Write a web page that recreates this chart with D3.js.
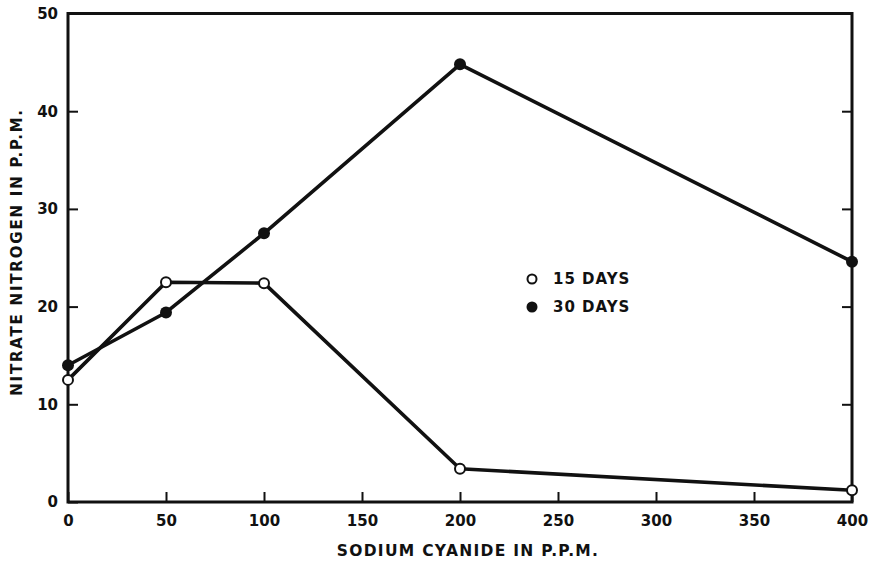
<!DOCTYPE html>
<html><head><meta charset="utf-8">
<script src="https://cdn.jsdelivr.net/npm/d3@7"></script>
<style>body{margin:0;background:#fff}svg{display:block}text{font-family:"DejaVu Sans",sans-serif;font-weight:bold;fill:#111}</style>
</head><body>
<script>
const doses = [0, 50, 100, 200, 400];
const days15 = [12.5, 22.5, 22.4, 3.4, 1.2];
const days30 = [14.0, 19.4, 27.5, 44.8, 24.6];
const xTicks = [0, 50, 100, 150, 200, 250, 300, 350, 400];
const yTicks = [0, 10, 20, 30, 40, 50];
const seriesNames = ["15 DAYS", "30 DAYS"];

const W = 873, H = 561;
const svg = d3.select("body").append("svg").attr("width", W).attr("height", H);
const x = d3.scaleLinear().domain([0, 400]).range([68, 852]);
const y = d3.scaleLinear().domain([0, 50]).range([502, 13.5]);
const ink = "#111";

// frame
svg.append("rect").attr("x", x(0)).attr("y", y(50)).attr("width", x(400) - x(0)).attr("height", y(0) - y(50))
  .attr("fill", "none").attr("stroke", ink).attr("stroke-width", 3);

// axes with inward ticks
const bottom = svg.append("g").attr("transform", `translate(0,${y(0)})`)
  .call(d3.axisBottom(x).tickValues(xTicks).tickSizeInner(-10).tickSizeOuter(0).tickPadding(13).tickFormat(d3.format("d")));
const left = svg.append("g").attr("transform", `translate(${x(0)},0)`)
  .call(d3.axisLeft(y).tickValues(yTicks).tickSizeInner(-10).tickSizeOuter(0).tickPadding(10).tickFormat(d3.format("d")));
const right = svg.append("g").attr("transform", `translate(${x(400)},0)`)
  .call(d3.axisRight(y).tickValues(yTicks.slice(1, -1)).tickSizeInner(-10).tickSizeOuter(0).tickFormat(""));
[bottom, left, right].forEach(g => {
  g.select(".domain").remove();
  g.selectAll("line").attr("stroke", ink).attr("stroke-width", 2);
  g.selectAll("text").attr("font-size", 15).attr("font-family", "DejaVu Sans").attr("font-weight", "bold").attr("fill", ink);
});
bottom.selectAll("text").attr("dy", "0.71em");

// lines
const line = d3.line().x((d, i) => x(doses[i])).y(d => y(d));
[days15, days30].forEach(s => {
  svg.append("path").datum(s).attr("d", line).attr("fill", "none").attr("stroke", ink).attr("stroke-width", 3.6).attr("stroke-linejoin", "round");
});
svg.selectAll(".p15").data(days15).join("circle").attr("cx", (d, i) => x(doses[i])).attr("cy", d => y(d))
  .attr("r", 5).attr("fill", "#fff").attr("stroke", ink).attr("stroke-width", 2);
svg.selectAll(".p30").data(days30).join("circle").attr("cx", (d, i) => x(doses[i])).attr("cy", d => y(d))
  .attr("r", 6).attr("fill", ink);

// legend
const lg = svg.append("g");
seriesNames.forEach((name, i) => {
  const cy = 279 + i * 28;
  if (i === 0) lg.append("circle").attr("cx", 532).attr("cy", cy).attr("r", 4.5).attr("fill", "#fff").attr("stroke", ink).attr("stroke-width", 2);
  else lg.append("circle").attr("cx", 532).attr("cy", cy).attr("r", 5.5).attr("fill", ink);
  lg.append("text").attr("x", 553).attr("y", cy).attr("dy", "0.36em").attr("font-size", 15).attr("letter-spacing", 1).text(name);
});

// titles
svg.append("text").attr("x", 468).attr("y", 550).attr("dy", "0.36em").attr("text-anchor", "middle").attr("font-size", 15.5).attr("letter-spacing", 1.3).text("SODIUM CYANIDE IN P.P.M.");
svg.append("text").attr("transform", "translate(17,252) rotate(-90)").attr("dy", "0.36em").attr("text-anchor", "middle").attr("font-size", 15).attr("letter-spacing", 1.8).text("NITRATE NITROGEN IN P.P.M.");
</script>
</body></html>
